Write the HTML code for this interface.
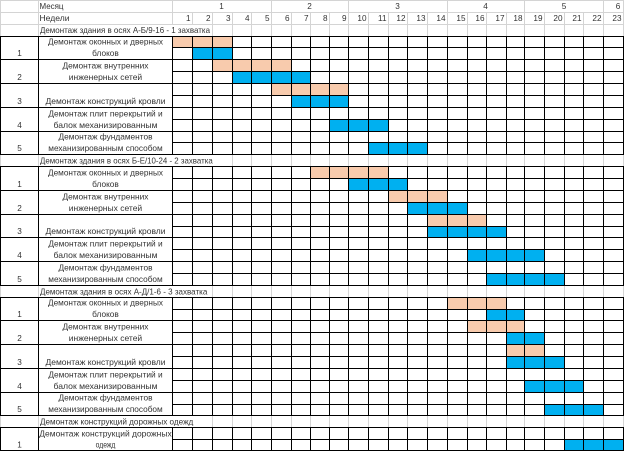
<!DOCTYPE html>
<html><head><meta charset="utf-8"><style>
html,body{margin:0;padding:0;background:#fff;}
svg{display:block;}
text{font-family:"Liberation Sans","DejaVu Sans",sans-serif;font-size:8.2px;fill:#333;}
</style></head><body>
<svg width="624" height="452" viewBox="0 0 624 452" xmlns="http://www.w3.org/2000/svg">
<defs>
<path id="gv" d="M0.5 0V11M38.5 0V11M232.5 0V11M251.5 0V11M271.5 0V11M291.5 0V11M310.5 0V11M329.5 0V11M348.5 0V11M368.5 0V11M388.5 0V11M407.5 0V11M427.5 0V11M447.5 0V11M467.5 0V11M486.5 0V11M506.5 0V11M524.5 0V11M544.5 0V11M564.5 0V11M583.5 0V11M603.5 0V11M623.5 0V11"/>
</defs>
<rect width="624" height="452" fill="#fff"/>
<g fill="#F8CBAD">
<rect x="172" y="36" width="60" height="11"/>
<rect x="212" y="59" width="79" height="12"/>
<rect x="271" y="83" width="77" height="12"/>
<rect x="310" y="166" width="78" height="12"/>
<rect x="388" y="190" width="59" height="12"/>
<rect x="427" y="214" width="59" height="12"/>
<rect x="447" y="297" width="59" height="12"/>
<rect x="467" y="320" width="57" height="12"/>
<rect x="506" y="344" width="38" height="12"/>
</g>
<g fill="#00B0F0">
<rect x="192" y="47" width="40" height="12"/>
<rect x="232" y="71" width="78" height="12"/>
<rect x="291" y="95" width="57" height="12"/>
<rect x="329" y="119" width="59" height="12"/>
<rect x="368" y="142" width="59" height="12"/>
<rect x="348" y="178" width="59" height="12"/>
<rect x="407" y="202" width="60" height="12"/>
<rect x="427" y="226" width="79" height="11"/>
<rect x="467" y="249" width="77" height="12"/>
<rect x="486" y="273" width="78" height="12"/>
<rect x="486" y="309" width="38" height="11"/>
<rect x="506" y="332" width="38" height="12"/>
<rect x="506" y="356" width="58" height="12"/>
<rect x="524" y="380" width="59" height="12"/>
<rect x="544" y="404" width="59" height="11"/>
<rect x="564" y="439" width="60" height="12"/>
</g>
<!-- black verticals -->
<path stroke="#000" stroke-width="1" fill="none" d="M0.5 36V451M38.5 36V451M172.5 36V451M192.5 36V451M212.5 36V451M232.5 36V451M251.5 36V451M271.5 36V451M291.5 36V451M310.5 36V451M329.5 36V451M348.5 36V451M368.5 36V451M388.5 36V451M407.5 36V451M427.5 36V451M447.5 36V451M467.5 36V451M486.5 36V451M506.5 36V451M524.5 36V451M544.5 36V451M564.5 36V451M583.5 36V451M603.5 36V451M623.5 36V451"/>
<!-- title rows white -->
<rect x="0" y="155" width="624" height="11" fill="#fff"/>
<rect x="0" y="286" width="624" height="11" fill="#fff"/>
<rect x="0" y="416" width="624" height="11" fill="#fff"/>
<!-- gray gridlines -->
<g stroke="#D4D4D4" stroke-width="1" fill="none">
<path d="M0 0.5H624M0 12.5H624M0 24.5H624"/>
<path d="M0.5 0V36M38.5 0V36M172.5 0V24M192.5 12V24M212.5 12V36M232.5 12V36M251.5 12V36M271.5 0V36M291.5 12V36M310.5 12V36M329.5 12V36M348.5 0V36M368.5 12V36M388.5 12V36M407.5 12V36M427.5 12V36M447.5 0V36M467.5 12V36M486.5 12V36M506.5 12V36M524.5 0V36M544.5 12V36M564.5 12V36M583.5 12V36M603.5 0V36M623.5 0V36"/>
<use href="#gv" y="155"/>
<use href="#gv" y="286"/>
<use href="#gv" y="416"/>
<path d="M212.5 286V297M212.5 416V427"/>
</g>
<!-- black horizontals -->
<path stroke="#000" stroke-width="1" fill="none" d="M0 36.5H624M0 59.5H624M0 83.5H624M0 107.5H624M0 131.5H624M0 154.5H624M0 166.5H624M0 190.5H624M0 214.5H624M0 237.5H624M0 261.5H624M0 285.5H624M0 297.5H624M0 320.5H624M0 344.5H624M0 368.5H624M0 392.5H624M0 415.5H624M0 427.5H624M0 450.5H624M172 47.5H624M172 71.5H624M172 95.5H624M172 119.5H624M172 142.5H624M172 178.5H624M172 202.5H624M172 226.5H624M172 249.5H624M172 273.5H624M172 309.5H624M172 332.5H624M172 356.5H624M172 380.5H624M172 404.5H624M172 439.5H624"/>

<!-- header text -->
<text x="39.5" y="9" textLength="24" lengthAdjust="spacingAndGlyphs">Месяц</text>
<text x="39.5" y="21" textLength="30" lengthAdjust="spacingAndGlyphs">Недели</text>
<g text-anchor="middle">
<text x="221.5" y="9">1</text>
<text x="309.5" y="9">2</text>
<text x="397.5" y="9">3</text>
<text x="485.5" y="9">4</text>
<text x="564" y="9">5</text>
<text x="618" y="9">6</text>
</g>
<g text-anchor="end">
<text x="190.5" y="21">1</text>
<text x="210.5" y="21">2</text>
<text x="230.5" y="21">3</text>
<text x="249.5" y="21">4</text>
<text x="269.5" y="21">5</text>
<text x="289.5" y="21">6</text>
<text x="308.5" y="21">7</text>
<text x="327.5" y="21">8</text>
<text x="346.5" y="21">9</text>
<text x="366.5" y="21">10</text>
<text x="386.5" y="21">11</text>
<text x="405.5" y="21">12</text>
<text x="425.5" y="21">13</text>
<text x="445.5" y="21">14</text>
<text x="465.5" y="21">15</text>
<text x="484.5" y="21">16</text>
<text x="504.5" y="21">17</text>
<text x="522.5" y="21">18</text>
<text x="542.5" y="21">19</text>
<text x="562.5" y="21">20</text>
<text x="581.5" y="21">21</text>
<text x="601.5" y="21">22</text>
<text x="621.5" y="21">23</text>
</g>

<!-- section titles -->
<text x="40" y="33" textLength="170" lengthAdjust="spacingAndGlyphs">Демонтаж здания в осях А-Б/9-16 - 1 захватка</text>
<text x="40" y="163.5" textLength="172.7" lengthAdjust="spacingAndGlyphs">Демонтаж здания в осях Б-Е/10-24 - 2 захватка</text>
<text x="40" y="294.5" textLength="167.3" lengthAdjust="spacingAndGlyphs">Демонтаж здания в осях А-Д/1-6 - 3 захватка</text>
<text x="40" y="424.5" textLength="153.3" lengthAdjust="spacingAndGlyphs">Демонтаж конструкций дорожных одежд</text>

<!-- task text -->
<g text-anchor="middle">
<!-- S1 -->
<text x="19.5" y="55.8">1</text>
<text x="105.5" y="44.4" textLength="115" lengthAdjust="spacingAndGlyphs">Демонтаж оконных и дверных</text>
<text x="105.5" y="55.8" textLength="26.6" lengthAdjust="spacingAndGlyphs">блоков</text>
<text x="19.5" y="79.8">2</text>
<text x="105.5" y="68.4" textLength="86" lengthAdjust="spacingAndGlyphs">Демонтаж внутренних</text>
<text x="105.5" y="79.8" textLength="73.4" lengthAdjust="spacingAndGlyphs">инженерных сетей</text>
<text x="19.5" y="103.8">3</text>
<text x="105.5" y="103.8" textLength="120" lengthAdjust="spacingAndGlyphs">Демонтаж конструкций кровли</text>
<text x="19.5" y="127.8">4</text>
<text x="105.5" y="116.4" textLength="114.3" lengthAdjust="spacingAndGlyphs">Демонтаж плит перекрытий и</text>
<text x="105.5" y="127.8" textLength="104" lengthAdjust="spacingAndGlyphs">балок механизированным</text>
<text x="19.5" y="150.8">5</text>
<text x="105.5" y="139.4" textLength="94" lengthAdjust="spacingAndGlyphs">Демонтаж фундаментов</text>
<text x="105.5" y="150.8" textLength="114.4" lengthAdjust="spacingAndGlyphs">механизированным способом</text>
<!-- S2 -->
<text x="19.5" y="186.8">1</text>
<text x="105.5" y="175.4" textLength="115" lengthAdjust="spacingAndGlyphs">Демонтаж оконных и дверных</text>
<text x="105.5" y="186.8" textLength="26.6" lengthAdjust="spacingAndGlyphs">блоков</text>
<text x="19.5" y="210.8">2</text>
<text x="105.5" y="199.4" textLength="86" lengthAdjust="spacingAndGlyphs">Демонтаж внутренних</text>
<text x="105.5" y="210.8" textLength="73.4" lengthAdjust="spacingAndGlyphs">инженерных сетей</text>
<text x="19.5" y="233.8">3</text>
<text x="105.5" y="233.8" textLength="120" lengthAdjust="spacingAndGlyphs">Демонтаж конструкций кровли</text>
<text x="19.5" y="257.8">4</text>
<text x="105.5" y="246.4" textLength="114.3" lengthAdjust="spacingAndGlyphs">Демонтаж плит перекрытий и</text>
<text x="105.5" y="257.8" textLength="104" lengthAdjust="spacingAndGlyphs">балок механизированным</text>
<text x="19.5" y="281.8">5</text>
<text x="105.5" y="270.4" textLength="94" lengthAdjust="spacingAndGlyphs">Демонтаж фундаментов</text>
<text x="105.5" y="281.8" textLength="114.4" lengthAdjust="spacingAndGlyphs">механизированным способом</text>
<!-- S3 -->
<text x="19.5" y="316.8">1</text>
<text x="105.5" y="305.4" textLength="115" lengthAdjust="spacingAndGlyphs">Демонтаж оконных и дверных</text>
<text x="105.5" y="316.8" textLength="26.6" lengthAdjust="spacingAndGlyphs">блоков</text>
<text x="19.5" y="340.8">2</text>
<text x="105.5" y="329.4" textLength="86" lengthAdjust="spacingAndGlyphs">Демонтаж внутренних</text>
<text x="105.5" y="340.8" textLength="73.4" lengthAdjust="spacingAndGlyphs">инженерных сетей</text>
<text x="19.5" y="364.8">3</text>
<text x="105.5" y="364.8" textLength="120" lengthAdjust="spacingAndGlyphs">Демонтаж конструкций кровли</text>
<text x="19.5" y="388.8">4</text>
<text x="105.5" y="377.4" textLength="114.3" lengthAdjust="spacingAndGlyphs">Демонтаж плит перекрытий и</text>
<text x="105.5" y="388.8" textLength="104" lengthAdjust="spacingAndGlyphs">балок механизированным</text>
<text x="19.5" y="411.8">5</text>
<text x="105.5" y="400.4" textLength="94" lengthAdjust="spacingAndGlyphs">Демонтаж фундаментов</text>
<text x="105.5" y="411.8" textLength="114.4" lengthAdjust="spacingAndGlyphs">механизированным способом</text>
<!-- S4 -->
<text x="19.5" y="447.5">1</text>
<text x="105.5" y="436.4" textLength="132.4" lengthAdjust="spacingAndGlyphs">Демонтаж конструкций дорожных</text>
<text x="105.5" y="447.5" textLength="19.7" lengthAdjust="spacingAndGlyphs">одежд</text>
</g>
</svg>
</body></html>
